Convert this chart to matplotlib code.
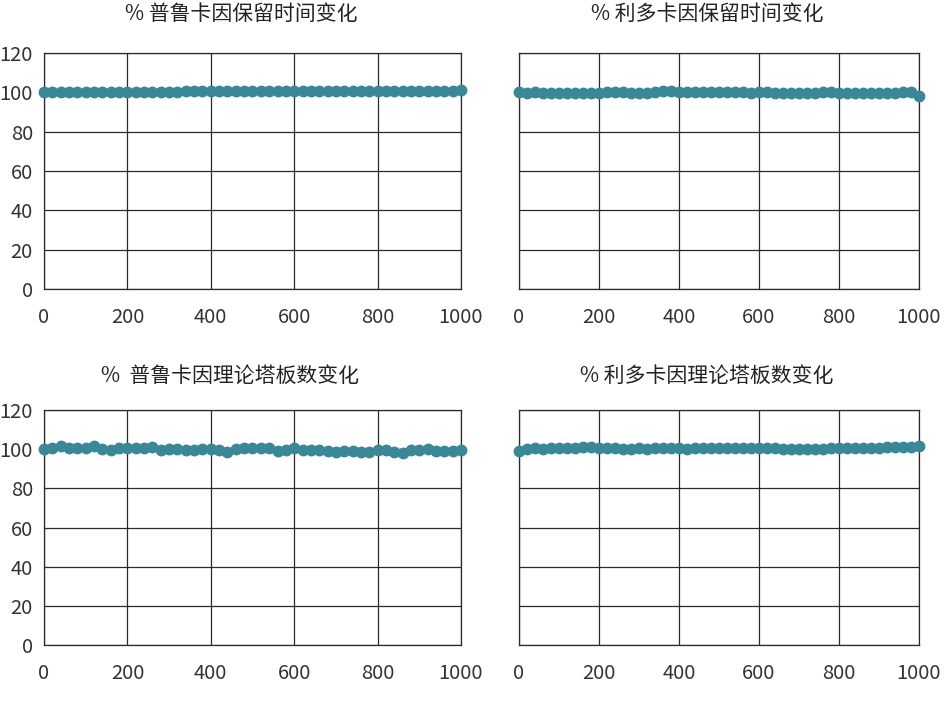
import numpy as np
from matplotlib import pyplot as plt

plt.rcParams['font.family'] = ['Noto Sans CJK SC', 'DejaVu Sans']

# x positions (same for all four panels)
x_vals = list(range(0, 1001, 20))

# % 普鲁卡因保留时间变化
pro_rt = [100.0, 100.0, 100.0, 100.0, 100.0, 100.0, 100.0, 100.1, 100.1, 100.1,
          100.2, 100.2, 100.3, 100.2, 100.2, 100.3, 100.3, 100.5, 100.6, 100.5,
          100.6, 100.5, 100.6, 100.5, 100.5, 100.6, 100.6, 100.5, 100.5, 100.5,
          100.5, 100.6, 100.6, 100.6, 100.7, 100.6, 100.6, 100.6, 100.6, 100.6,
          100.7, 100.7, 100.8, 100.8, 100.8, 100.8, 100.8, 100.9, 100.9, 100.9,
          101.0]
# % 利多卡因保留时间变化
lid_rt = [100.0, 99.9, 100.0, 99.9, 99.9, 99.8, 99.8, 99.7, 99.8, 99.8,
          99.9, 100.0, 100.0, 100.0, 99.8, 99.7, 99.8, 100.0, 100.5, 100.6,
          100.4, 100.2, 100.2, 100.1, 100.0, 100.1, 100.2, 100.2, 100.0, 99.9,
          100.0, 100.0, 99.9, 99.9, 99.8, 99.7, 99.8, 99.9, 100.0, 100.1,
          99.9, 99.8, 99.8, 99.7, 99.8, 99.8, 99.9, 99.9, 100.0, 100.1,
          98.3]
# % 普鲁卡因理论塔板数变化
pro_n = [100.0, 100.5, 101.5, 100.8, 100.5, 100.6, 101.5, 100.0, 99.8, 100.6,
         100.5, 100.7, 100.6, 101.0, 99.6, 99.9, 100.0, 99.8, 99.7, 99.9,
         100.0, 99.5, 98.3, 100.3, 100.5, 100.6, 100.7, 100.4, 99.3, 99.5,
         100.4, 99.7, 99.6, 99.6, 99.3, 98.8, 99.0, 98.9, 98.5, 98.7,
         99.6, 99.5, 98.3, 98.0, 99.5, 99.7, 100.0, 99.3, 99.0, 99.2,
         99.4]
# % 利多卡因理论塔板数变化
lid_n = [99.0, 100.2, 100.6, 100.3, 100.5, 100.5, 100.7, 100.8, 101.2, 100.9,
         100.7, 100.6, 100.5, 100.2, 100.1, 100.4, 100.2, 100.5, 100.8, 100.6,
         100.4, 100.1, 100.8, 100.6, 100.7, 100.6, 100.6, 100.5, 100.4, 100.6,
         100.7, 100.8, 100.5, 100.2, 100.3, 100.1, 100.1, 100.2, 100.2, 100.5,
         100.6, 100.5, 100.5, 100.6, 100.7, 100.8, 100.9, 101.0, 100.9, 101.0,
         101.8]

titles = ['% 普鲁卡因保留时间变化', '% 利多卡因保留时间变化',
          '%  普鲁卡因理论塔板数变化', '% 利多卡因理论塔板数变化']
series = [pro_rt, lid_rt, pro_n, lid_n]

teal = '#3a8797'
grid_c = '#2a2a2a'
W, H = 953, 704

# axes boxes in pixels: left, right, top, bottom
boxes = [(44, 461, 53, 289), (519, 919, 53, 289),
         (44, 461, 410, 645), (519, 919, 410, 645)]
title_x = [0.472, 0.47, 0.445, 0.47]
title_pad = [24, 24, 20, 20]

fig = plt.figure(figsize=(W / 100, H / 100), dpi=100)

for i, (l, r, t, b) in enumerate(boxes):
    ax = fig.add_axes([l / W, 1 - b / H, (r - l) / W, (b - t) / H])
    ax.plot(x_vals, series[i], color=teal, lw=2, marker='o', ms=7.5,
            mec=teal, mfc=teal, clip_on=False, zorder=3)
    ax.set_xlim(0, 1000)
    ax.set_ylim(0, 120)
    ax.set_xticks(np.arange(0, 1001, 200))
    ax.set_yticks(np.arange(0, 121, 20))
    ax.grid(True, color=grid_c, lw=0.9)
    ax.set_axisbelow(True)
    for s in ax.spines.values():
        s.set_color(grid_c)
        s.set_linewidth(0.9)
    ax.tick_params(length=0, labelsize=14.5, labelcolor='#333333')
    ax.tick_params(axis='x', pad=13)
    ax.tick_params(axis='y', pad=8)
    if i % 2 == 1:
        ax.tick_params(axis='y', labelleft=False)
    ax.set_title(titles[i], fontsize=15, color='#222222', x=title_x[i],
                 pad=title_pad[i])

plt.savefig('out.png', dpi=100)
